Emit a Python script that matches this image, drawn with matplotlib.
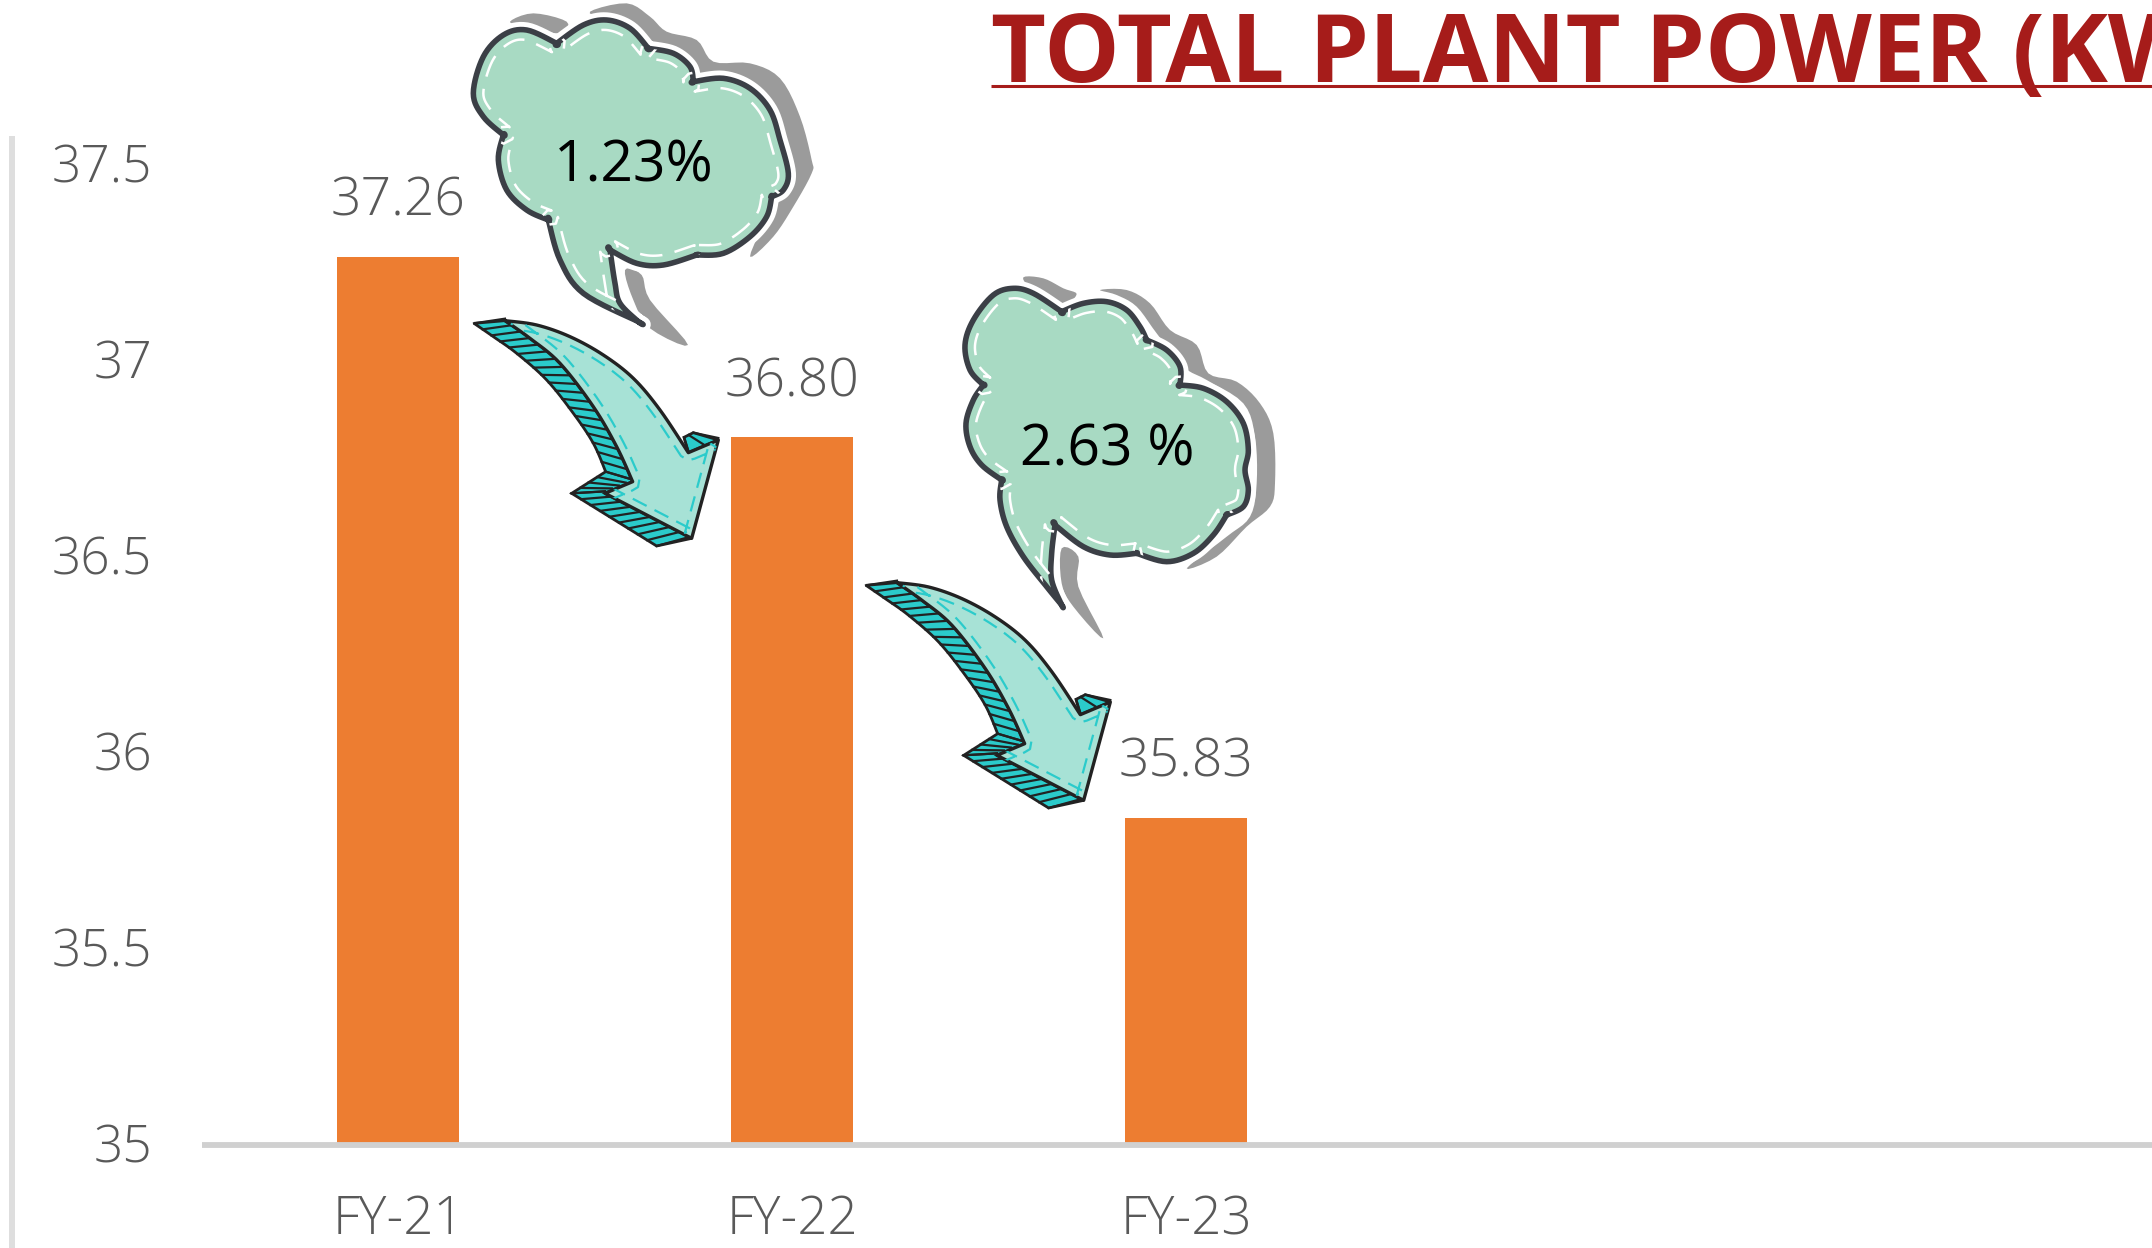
#!/usr/bin/env python3
"""Total plant power bars with the hand drawn clouds and arrows."""
import matplotlib
matplotlib.use('Agg')
import matplotlib.pyplot as plt
from matplotlib.patches import Polygon
import numpy as np

W, H = 2152, 1248

years = ["FY-21", "FY-22", "FY-23"]
power = [37.26, 36.80, 35.83]
power_labels = ["37.26", "36.80", "35.83"]
y_ticks = [35, 35.5, 36, 36.5, 37, 37.5]
y_tick_labels = ["35", "35.5", "36", "36.5", "37", "37.5"]
drop_labels = ["1.23%", "2.63 %"]

TITLE = "TOTAL PLANT POWER (KW)"
FONT = "Open Sans"
GREY = '#595959'
RED = '#a61c1a'

# ---- clouds, outlines (3x crop coords) ----
# a repeated point makes a sharp corner in the smoothing
cloud1 = [(565,965),(565,965),(400,880),(330,780),(295,660),(295,660),(230,630),(170,570),(145,480),(160,405),(160,405),
          (100,350),(70,280),(100,170),(160,105),(230,90),(320,130),(320,130),(400,75),(470,60),(540,85),(595,145),(595,145),
          (670,160),(720,200),(730,245),(730,245),(820,235),(900,265),(960,330),(990,420),(1015,520),(1000,570),(965,590),(965,590),
          (950,650),(900,710),(820,760),(740,765),(740,765),(640,795),(560,790),(480,750),(480,750),(495,850),(510,910)]
shadow1 = [
    [(180,65),(250,40),(350,65),(330,100),(230,80)],
    [(420,35),(530,10),(600,50),(650,95),(740,120),(790,185),(900,190),(990,235),(1050,350),(1085,480),(1085,520),
     (1030,620),(970,710),(900,770),(950,650),(965,590),(1000,560),(1015,520),(990,420),(960,330),(900,265),(820,235),
     (730,245),(720,200),(670,160),(595,145),(540,85),(470,60)],
    [(525,810),(575,825),(600,900),(714,1035),(600,985),(550,900)],
]
cloud2 = [(335,1005),(335,1005),(290,950),(220,860),(170,770),(150,690),(155,630),(155,630),(95,585),(60,530),(48,460),(70,390),(100,345),(100,345),
          (60,300),(45,225),(70,150),(130,75),(190,55),(250,70),(335,125),(335,125),(400,100),(470,95),(530,120),(570,170),(590,210),(590,210),
          (650,240),(690,290),(690,345),(690,345),(760,355),(830,395),(880,460),(895,540),(885,600),(895,660),(880,710),(830,735),(830,735),
          (790,795),(730,850),(650,875),(560,850),(560,850),(480,855),(400,830),(315,765),(315,765),(305,850),(305,930)]
shadow2 = [
    [(220,22),(280,25),(340,55),(380,72),(340,100),(250,60)],
    [(450,60),(530,60),(600,100),(660,180),(740,225),(775,310),(860,335),(930,400),(970,490),(975,640),(960,710),
     (890,770),(800,860),(710,895),(830,800),(900,740),(920,640),(915,500),(880,400),(770,330),(700,290),(620,190),(560,110),(500,75)],
    [(335,835),(385,860),(385,950),(460,1105),(370,1010),(335,940)],
]

# ---- arrow, same crop scale ----
arrow_top = [(135,62),(230,75),(330,110),(430,165),(520,235),(600,330),(685,458)]
band_in = [(135,62),(210,115),(300,190),(400,320),(470,440),(518,545)]
band_out = [(42,70),(100,110),(170,160),(260,240),(340,340),(400,430),(437,515)]
arrow_lip = [(685,458),(775,420),(700,398),(672,412)]


def to_px(pts, ox, oy):
    return np.array(pts, float) / 3 + (ox, oy)


def spline(p0, p1, p2, p3, n):
    out = []
    for t in np.linspace(0, 1, n, endpoint=False):
        out.append(0.5*((2*p1) + (p2-p0)*t + (2*p0-5*p1+4*p2-p3)*t**2 + (3*p1-p0-3*p2+p3)*t**3))
    return out


def smooth(pts, n=8):
    # closed catmull-rom through the traced points
    p = np.asarray(pts, float)
    out = []
    for i in range(len(p)):
        out += spline(p[i-1], p[i], p[(i+1) % len(p)], p[(i+2) % len(p)], n)
    out = np.array(out)
    keep = np.linalg.norm(out - np.roll(out, 1, axis=0), axis=1) > 1e-6
    return out[keep]


def curve(pts, n=8):
    # same thing for an open edge
    p = np.asarray(pts, float)
    p = np.r_[p[:1], p, p[-1:]]
    out = []
    for i in range(1, len(p)-2):
        out += spline(p[i-1], p[i], p[i+1], p[i+2], n)
    return np.r_[np.array(out), p[-1:]]


def inset(p, d):
    # shift a closed outline inward by d px
    tan = np.roll(p, -1, axis=0) - np.roll(p, 1, axis=0)
    tan /= np.maximum(np.linalg.norm(tan, axis=1, keepdims=True), 1e-6)
    nor = np.c_[-tan[:, 1], tan[:, 0]]
    area = 0.5*np.sum(p[:, 0]*np.roll(p[:, 1], -1) - np.roll(p[:, 0], -1)*p[:, 1])
    return p + np.sign(area)*d*nor


def along(pts, n):
    # n points evenly spaced along an open polyline
    p = np.asarray(pts, float)
    s = np.r_[0, np.cumsum(np.linalg.norm(np.diff(p, axis=0), axis=1))]
    t = np.linspace(0, s[-1], n)
    return np.c_[np.interp(t, s, p[:, 0]), np.interp(t, s, p[:, 1])]


def draw_cloud(ax, outline, shadows, ox, oy):
    for s in shadows:
        ax.add_patch(Polygon(smooth(to_px(s, ox, oy), 5), closed=True, facecolor='#9b9b9b', edgecolor='none', zorder=5))
    p = smooth(to_px(outline, ox, oy))
    ax.add_patch(Polygon(p, closed=True, facecolor='white', edgecolor='white', lw=11, joinstyle='round', zorder=6))
    body = Polygon(p, closed=True, facecolor='#a8dac3', edgecolor='#3b3f46', lw=4, joinstyle='round', zorder=7)
    ax.add_patch(body)
    q = inset(p, 10)
    dash, = ax.plot(np.r_[q[:, 0], q[0, 0]], np.r_[q[:, 1], q[0, 1]], color='white', lw=1.8,
                    ls=(0, (9, 5)), zorder=8)
    dash.set_clip_path(body)


def strokes(ax, outer, inner, n):
    a, b = along(outer, n), along(inner, n)
    for u, v in zip(a, b):
        ax.plot([u[0], v[0]], [u[1], v[1]-2], color='#222222', lw=1.6, zorder=7)


def draw_arrow(ax, ox, oy):
    px = lambda pts: to_px(pts, ox, oy)
    top, inner, outer = curve(px(arrow_top)), curve(px(band_in)), curve(px(band_out))
    barb, head, low = px([(435,580)]), px([(775,420),(695,715)]), px([(590,738),(335,580)])
    side = np.r_[outer[:1], inner, barb, head[1:], low, outer[::-1][:-1]]
    ax.add_patch(Polygon(side, closed=True, facecolor='#2bcbcb', edgecolor='#222222', lw=2, zorder=6))
    ax.add_patch(Polygon(px(arrow_lip), closed=True, facecolor='#2bcbcb', edgecolor='#222222', lw=2, zorder=6))
    strokes(ax, outer, inner, 20)
    strokes(ax, px([(437,515),(335,580)]), px([(518,545),(435,580)]), 5)
    strokes(ax, px([(335,580),(590,738)]), px([(435,580),(695,715)]), 10)
    strokes(ax, px([(672,412),(700,398)]), px([(685,458),(775,420)]), 3)
    p = np.r_[top, head, barb, inner[::-1][:-1]]
    face = Polygon(p, closed=True, facecolor='#a7e2d6', edgecolor='#222222', lw=2.4, joinstyle='round', zorder=8)
    ax.add_patch(face)
    q = along(np.r_[p, p[:1]], 240)
    q = inset(q[:-1], 8)
    dash, = ax.plot(q[:, 0], q[:, 1], color='#2bcbcb', lw=1.6, ls=(0, (7, 4)), zorder=9)
    dash.set_clip_path(face)


fig = plt.figure(figsize=(W/100, H/100), dpi=100)
fig.patch.set_facecolor('white')

# ---- bars ----
ax = fig.add_axes([202/W, 1-1143/H, (W-202)/W, 980/H])
# moving the spine resets the ticks, so it comes first
ax.spines['bottom'].set_position(('outward', 1.45))
ax.spines['bottom'].set_color('#d0d0d0')
ax.spines['bottom'].set_linewidth(4.2)
ax.spines['bottom'].set_capstyle('butt')
x = np.arange(len(years))
ax.bar(x, power, width=122/394, color='#ed7d31')
ax.set_xlim((202-398)/394, (W-398)/394)
ax.set_ylim(35, 37.5)
ax.set_yticks(y_ticks)
ax.set_yticklabels(y_tick_labels, fontsize=37, color=GREY, family=FONT, fontweight='light')
ax.set_xticks(x)
ax.set_xticklabels(years, fontsize=38, color=GREY, family=FONT, fontweight='light')
ax.tick_params(axis='both', length=0)
ax.tick_params(axis='y', pad=36)
ax.tick_params(axis='x', pad=35)
for s in ['top', 'right', 'left']:
    ax.spines[s].set_visible(False)
for i, v in enumerate(power):
    ax.annotate(power_labels[i], (x[i], v), xytext=(0, 39.5), textcoords='offset points',
                ha='center', va='center', fontsize=38.5, color=GREY, family=FONT, fontweight='light')

# ---- everything drawn in picture pixels ----
ov = fig.add_axes([0, 0, 1, 1], facecolor='none')
ov.set_xlim(0, W)
ov.set_ylim(H, 0)
ov.axis('off')

ov.plot([12, 12], [136, H], color='#dedede', lw=4.3, solid_capstyle='butt')

ov.text(991, 82, TITLE, fontsize=68.5, fontweight='bold', color=RED, family=FONT, ha='left', va='baseline')
ov.plot([991, W], [86, 86], color=RED, lw=2.2, solid_capstyle='butt')

draw_arrow(ov, 460, 300)
draw_arrow(ov, 852, 562)
draw_cloud(ov, cloud1, shadow1, 450, 0)
draw_cloud(ov, cloud2, shadow2, 950, 270)
ov.text(634, 182, drop_labels[0], fontsize=41, color='black', family=FONT, ha='center', va='baseline', zorder=10)
ov.text(1107, 465, drop_labels[1], fontsize=41, color='black', family=FONT, ha='center', va='baseline', zorder=10)

fig.savefig("out.png", dpi=100)
plt.close(fig)
